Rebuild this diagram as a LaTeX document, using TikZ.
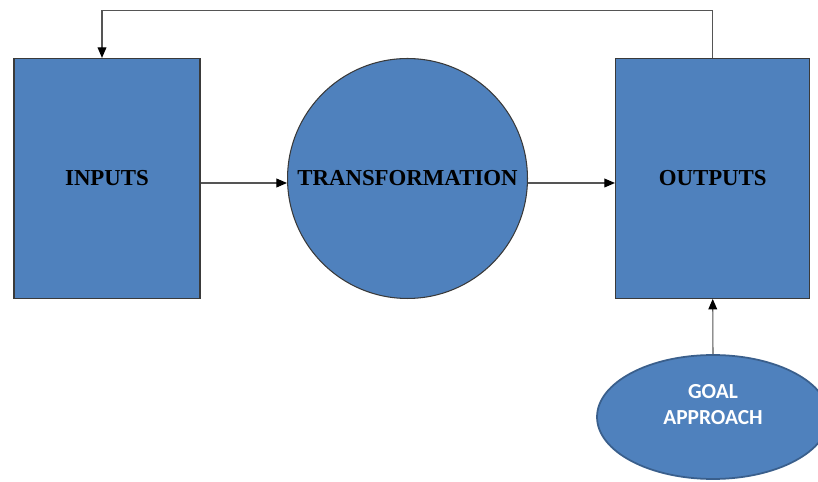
\documentclass[tikz,border=0pt]{standalone}
\usepackage{fontspec}
\setmainfont{Liberation Serif}
\newfontfamily\goalfont{Carlito}
\usetikzlibrary{positioning, arrows.meta, shapes.geometric}
\definecolor{boxblue}{HTML}{4F81BD}
\definecolor{boxedge}{HTML}{3A3A3A}
\definecolor{ovaledge}{HTML}{3A5F8C}
\definecolor{flowgray}{HTML}{555555}

\begin{document}
\begin{tikzpicture}[
      x=0.02cm, y=-0.02cm,
      every node/.style={font=\fontsize{13}{15}\selectfont\bfseries},
      block/.style={draw=boxedge, line width=0.6pt, fill=boxblue, minimum height=4.8cm, inner sep=0pt},
      stage/.style={draw=boxedge, line width=0.6pt, fill=boxblue, circle, minimum size=4.8cm, inner sep=0pt},
      goalshape/.style={draw=ovaledge, line width=1pt, fill=boxblue, ellipse, minimum width=4.64cm, minimum height=2.48cm,
        inner sep=0pt, align=center, text=white, text depth=0.5cm, font=\goalfont\fontsize{12.2}{15}\selectfont\bfseries},
      flow/.style={draw=flowgray, line width=0.6pt, -{Triangle[length=6pt, width=5pt, color=black]}},
    ]
    \useasboundingbox (0,0) rectangle (818,482);
    \clip (0,0) rectangle (818,482);

    \node[block, minimum width=3.72cm] (inputs) at (107,178.4) {INPUTS};
    \node[stage] (trans) at (407.5,178.5) {TRANSFORMATION};
    \node[block, minimum width=3.89cm] (outputs) at (712.7,178.4) {OUTPUTS};

    % Goal feeding the outputs
    \node[goalshape] (goal) at (713,417) {GOAL\\APPROACH};

    \coordinate (flowline) at (0,183);
    \coordinate (topline) at (0,10.7);
    \coordinate (backdrop) at (102,0);

    \draw[flow] (inputs.east |- flowline) -- (trans.west |- flowline);
    \draw[flow] (trans.east |- flowline) -- (outputs.west |- flowline);
    \draw[flow] (outputs.north) -- (outputs.north |- topline) -| (inputs.north -| backdrop);
    \draw[flow] (goal.north) -- (outputs.south);
  \end{tikzpicture}
\end{document}
